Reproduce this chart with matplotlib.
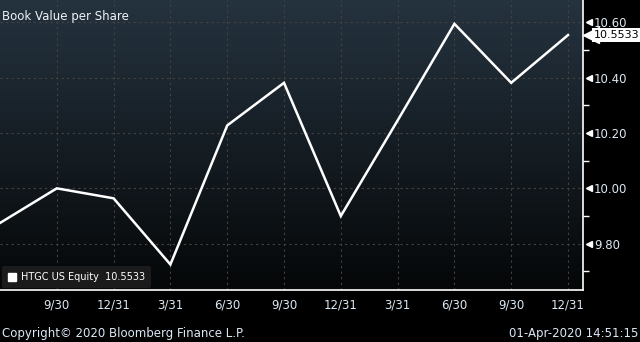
import numpy as np
import matplotlib
matplotlib.use('Agg')
import matplotlib.pyplot as plt
from matplotlib.patches import Patch
import matplotlib.transforms as mtransforms

plt.rcParams['font.family'] = 'DejaVu Sans'

# quarterly book value per share, HTGC US Equity (first point = 6/30, unlabeled)
quarters = ['6/30', '9/30', '12/31', '3/31', '6/30', '9/30', '12/31', '3/31', '6/30', '9/30', '12/31']
bvps = [9.875, 10.00, 9.964, 9.725, 10.227, 10.381, 9.90, 10.245, 10.594, 10.381, 10.5533]
yticks = [9.80, 10.00, 10.20, 10.40, 10.60]
minor_yticks = [9.70, 9.90, 10.10, 10.30, 10.50]
last_value = 10.5533

label_col = '#dce8f4'

fig = plt.figure(figsize=(6.4, 3.42), dpi=100, facecolor='black')
ax = fig.add_axes([0, 52 / 342, 583 / 640, 290 / 342])
ax.set_facecolor('black')

x = np.arange(len(bvps))
xmin, xmax = 0, 583 / 56.8
ymin, ymax = 9.633, 10.680

# gradient background, dark slate at top fading to black
grad = np.linspace(0, 1, 256).reshape(-1, 1)
cmap = matplotlib.colors.LinearSegmentedColormap.from_list('bg', ['#25333f', '#050708'])
ax.imshow(grad, cmap=cmap, aspect='auto', extent=[xmin, xmax, ymin, ymax],
          origin='upper', zorder=0)

ax.plot(x, bvps, color='white', lw=1.8, zorder=3, solid_joinstyle='miter')

ax.set_xlim(xmin, xmax)
ax.set_ylim(ymin, ymax)

# grid
for xi in x[1:]:
    ax.axvline(xi, color='#45423f', lw=0.8, ls=(0, (2, 3)), zorder=1)
for yt in yticks:
    ax.axhline(yt, color='#45423f', lw=0.8, ls=(0, (2, 3)), zorder=1)

# spines
for s in ['top', 'left']:
    ax.spines[s].set_visible(False)
ax.spines['right'].set_color('white')
ax.spines['bottom'].set_color('white')
ax.spines['right'].set_linewidth(1.2)
ax.spines['bottom'].set_linewidth(1.2)

# x axis
ax.set_xticks(x[1:])
ax.set_xticklabels(quarters[1:], color=label_col, fontsize=8.5)
ax.tick_params(axis='x', length=0, pad=6)

# y axis on the right with triangle markers
ax.yaxis.tick_right()
ax.set_yticks(yticks)
ax.set_yticklabels(['%.2f' % v for v in yticks], color=label_col, fontsize=8.5)
ax.set_yticks(minor_yticks, minor=True)
ax.tick_params(axis='y', which='major', length=0, pad=8)
ax.tick_params(axis='y', which='minor', length=4, width=1, color='white', direction='out')
trans = mtransforms.blended_transform_factory(ax.transAxes, ax.transData)
ax.plot([1.011] * len(yticks), yticks, marker='<', ls='none', color='white',
        markersize=5, transform=trans, clip_on=False, zorder=5)

# last value tag
ax.plot([1.013], [last_value], marker='<', ls='none', color='white',
        markersize=11, transform=trans, clip_on=False, zorder=5)
ax.text(1.0185, last_value, '%.4f' % last_value, transform=trans, color='black',
        fontsize=8, va='center', ha='left', zorder=6,
        bbox=dict(boxstyle='square,pad=0.2', fc='white', ec='none'))

# title
ax.text(0.003, 0.966, 'Book Value per Share', transform=ax.transAxes, color='#eef2f6',
        fontsize=8.5, va='top', ha='left')

# legend
leg = ax.legend(handles=[Patch(color='white')], labels=['HTGC US Equity  %.4f' % last_value],
                loc='lower left', bbox_to_anchor=(0.0, 0.0), fontsize=7, frameon=True,
                facecolor='#1b1b1b', edgecolor='none', framealpha=1, handlelength=0.8,
                handleheight=0.8, handletextpad=0.6, borderpad=0.6, borderaxespad=0.2,
                fancybox=True)
for t in leg.get_texts():
    t.set_color('white')

# footer
fig.text(2 / 640, 9 / 342, 'Copyright\u00a9 2020 Bloomberg Finance L.P.', color=label_col,
         fontsize=8.5, va='center', ha='left')
fig.text(638 / 640, 9 / 342, '01-Apr-2020 14:51:15', color=label_col,
         fontsize=8.5, va='center', ha='right')

fig.savefig('out.png', dpi=100, facecolor='black')
